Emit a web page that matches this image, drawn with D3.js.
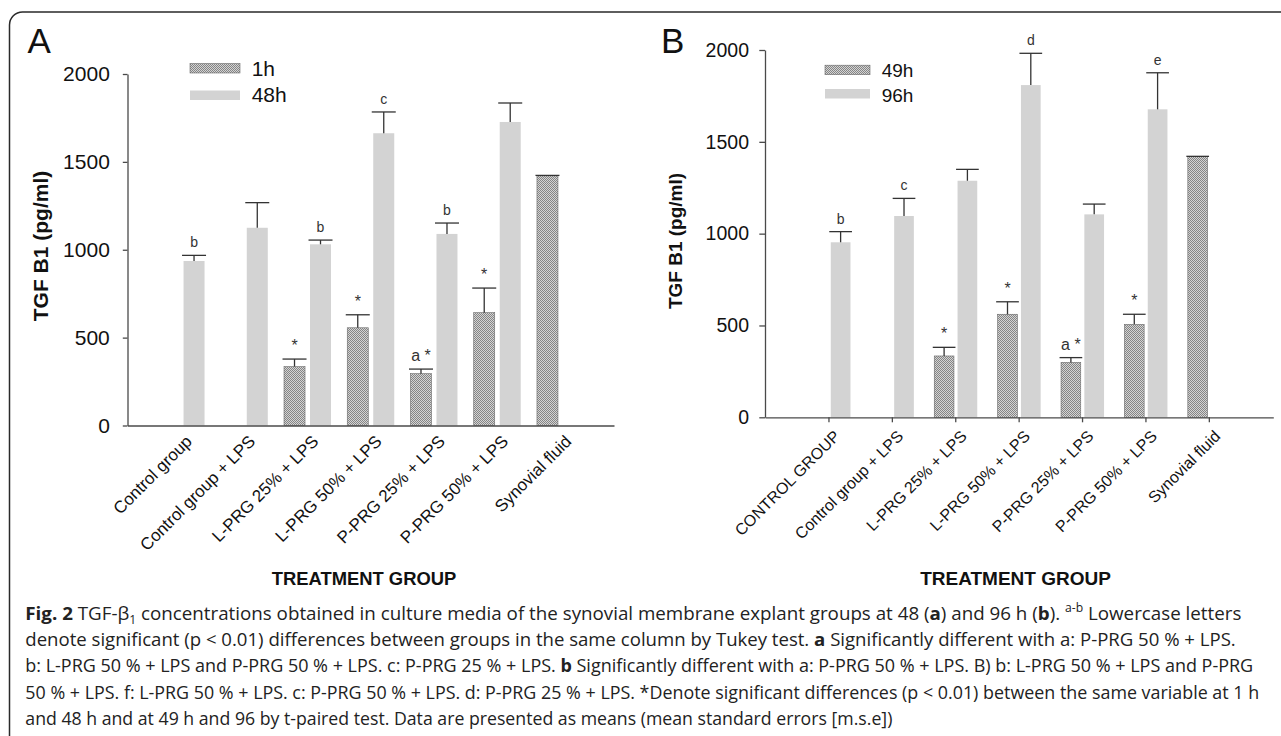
<!DOCTYPE html>
<html><head><meta charset="utf-8">
<script src="https://cdn.jsdelivr.net/npm/d3@7"></script>
<style>
html,body{margin:0;padding:0;background:#fff;}
svg{display:block;}
</style></head><body>
<svg id="fig" width="1281" height="736"></svg>
<script>
// ---- data: TGF-β1 concentration (pg/ml), mean and s.e.m. per treatment group ----
const categoriesA = ["Control group", "Control group + LPS", "L-PRG 25% + LPS", "L-PRG 50% + LPS",
                     "P-PRG 25% + LPS", "P-PRG 50% + LPS", "Synovial fluid"];
const categoriesB = ["CONTROL GROUP", "Control group + LPS", "L-PRG 25% + LPS", "L-PRG 50% + LPS",
                     "P-PRG 25% + LPS", "P-PRG 50% + LPS", "Synovial fluid"];
const seriesA = ["1h", "48h"];
const seriesB = ["49h", "96h"];

const meanA1h  = [null, null, 335, 556, 295, 642, 1421];
const semA1h   = [null, null, 43, 74, 26, 140, 2];
const meanA48h = [936, 1125, 1031, 1663, 1090, 1727, null];
const semA48h  = [32, 143, 24, 121, 62, 108, null];
const marksA1h  = [null, null, "*", "*", "a *", "*", null];
const marksA48h = ["b", null, "b", "c", "b", null, null];

const meanB49h = [null, null, 334, 561, 299, 506, 1419];
const semB49h  = [null, null, 47, 68, 26, 55, 2];
const meanB96h = [953, 1096, 1288, 1809, 1105, 1677, null];
const semB96h  = [58, 96, 62, 173, 56, 199, null];
const marksB49h = [null, null, "*", "*", "a *", "*", null];
const marksB96h = ["b", "c", null, "d", null, "e", null];

const yTicks = [0, 500, 1000, 1500, 2000];
const yTitle = "TGF B1 (pg/ml)";
const xTitle = "TREATMENT GROUP";

// ---- drawing ----
const FONT = "'Liberation Sans', Arial, Helvetica, sans-serif";
const svg = d3.select("#fig");

const defs = svg.append("defs");
const pat = defs.append("pattern").attr("id", "hatch")
  .attr("patternUnits", "userSpaceOnUse").attr("width", 2).attr("height", 2);
pat.append("rect").attr("width", 2).attr("height", 2).attr("fill", "#d4d4d4");
pat.append("rect").attr("width", 1).attr("height", 1).attr("fill", "#858585");
pat.append("rect").attr("x", 1).attr("y", 1).attr("width", 1).attr("height", 1).attr("fill", "#858585");

// figure frame (runs off the right and bottom edges)
svg.append("rect").attr("x", 9.5).attr("y", 12).attr("width", 1320).attr("height", 800)
  .attr("rx", 13).attr("fill", "none").attr("stroke", "#2a2a2a").attr("stroke-width", 1.5);

const LIGHT = "#d3d3d3";
const AXIS = "#4a4a4a";

function drawPanel(cfg, d) {
  const g = svg.append("g");
  const x = d3.scaleBand().domain(d.categories).range(cfg.xRange)
    .paddingInner(0).paddingOuter(cfg.po);
  const inner = d3.scaleBand().domain(d.series).range([-cfg.half, cfg.half])
    .paddingInner(cfg.pi).paddingOuter(0);
  const y = d3.scaleLinear().domain([0, 2000]).range(cfg.yRange);
  const bw = inner.bandwidth();

  // panel letter
  g.append("text").attr("x", cfg.letterX).attr("y", 53.3).attr("font-family", FONT)
    .attr("font-size", 35).attr("fill", "#111").text(cfg.letter);

  // bars, error bars and significance marks
  d.series.forEach((s, si) => {
    const fill = si === 0 ? "url(#hatch)" : LIGHT;
    const rows = d.categories.map((c, i) => ({c, m: d.means[si][i], e: d.sems[si][i], t: d.marks[si][i]}))
      .filter(r => r.m != null);
    const cx = r => x(r.c) + x.bandwidth() / 2 + inner(s) + bw / 2;

    g.selectAll(null).data(rows).join("rect")
      .attr("x", r => cx(r) - bw / 2).attr("width", bw)
      .attr("y", r => y(r.m)).attr("height", r => y(0) - y(r.m))
      .attr("fill", fill)
      .attr("stroke", si === 0 ? "#6a6a6a" : "none").attr("stroke-width", si === 0 ? 0.6 : 0);

    const eg = g.selectAll(null).data(rows.filter(r => r.e)).join("g");
    eg.append("line").attr("x1", cx).attr("x2", cx)
      .attr("y1", r => y(r.m)).attr("y2", r => y(r.m + r.e))
      .attr("stroke", "#333").attr("stroke-width", 1.3);
    eg.append("line").attr("x1", r => cx(r) - bw / 2 - 1.5).attr("x2", r => cx(r) + bw / 2 + 1.5)
      .attr("y1", r => y(r.m + r.e)).attr("y2", r => y(r.m + r.e))
      .attr("stroke", "#333").attr("stroke-width", 1.3);

    g.selectAll(null).data(rows.filter(r => r.t)).join("text")
      .attr("x", cx).attr("y", r => y(r.m + (r.e || 0)) - 8)
      .attr("text-anchor", "middle").attr("font-family", FONT)
      .attr("font-size", r => r.t.includes("*") ? 16 : 14).attr("fill", "#333")
      .text(r => r.t);
  });

  // y axis
  const ya = g.append("g").attr("transform", `translate(${cfg.xRange[0]},0)`)
    .call(d3.axisLeft(y).tickValues(yTicks).tickSize(cfg.yTick).tickSizeOuter(0)
      .tickPadding(cfg.yPad).tickFormat(d3.format("d")));
  ya.selectAll("path,line").attr("stroke", AXIS).attr("stroke-width", 1.3);
  ya.selectAll("text").attr("font-family", FONT).attr("font-size", cfg.yFont).attr("fill", "#111");

  // x axis
  const xa = g.append("g").attr("transform", `translate(0,${y(0)})`)
    .call(d3.axisBottom(x).tickSize(cfg.xTick).tickSizeOuter(0));
  xa.selectAll("path,line").attr("stroke", AXIS).attr("stroke-width", 1.3);
  xa.selectAll("text").attr("x", 0).attr("y", 0).attr("dy", 0)
    .attr("transform", `translate(${cfg.labOff[0]},${cfg.labOff[1]}) rotate(-45)`)
    .attr("text-anchor", "end").attr("font-family", FONT)
    .attr("font-size", cfg.xFont).attr("fill", "#111");

  // axis titles
  g.append("text").attr("transform", `translate(${cfg.titleX},${cfg.titleY}) rotate(-90)`)
    .attr("text-anchor", "middle").attr("font-family", FONT).attr("font-weight", "bold")
    .attr("font-size", cfg.titleFont).attr("fill", "#111").text(yTitle);
  g.append("text").attr("x", cfg.xTitleX).attr("y", 585)
    .attr("text-anchor", "middle").attr("font-family", FONT).attr("font-weight", "bold")
    .attr("font-size", cfg.xTitleFont).attr("fill", "#111").text(xTitle);

  // legend
  const lg = g.append("g");
  d.series.forEach((s, si) => {
    lg.append("rect").attr("x", cfg.legX).attr("y", cfg.legY[si]).attr("width", cfg.legW).attr("height", 9.5)
      .attr("fill", si === 0 ? "url(#hatch)" : LIGHT)
      .attr("stroke", si === 0 ? "#6a6a6a" : "none").attr("stroke-width", si === 0 ? 0.6 : 0);
    lg.append("text").attr("x", cfg.legTextX).attr("y", cfg.legBase[si])
      .attr("font-family", FONT).attr("font-size", cfg.legFont).attr("fill", "#111").text(s);
  });
}

drawPanel({
  letter: "A", letterX: 27.5,
  xRange: [127.5, 614], po: 0.3467, half: 23.5, pi: 0.192,
  yRange: [425.5, 74], yTick: 4.7, yPad: 13, yFont: 21,
  xTick: 0, xFont: 17, labOff: [12, 17],
  titleX: 47.5, titleY: 246, titleFont: 21, xTitleX: 364, xTitleFont: 18.4,
  legX: 190, legW: 50, legY: [63.5, 90.5], legTextX: 251.7, legBase: [76, 102], legFont: 21
}, {
  categories: categoriesA, series: seriesA,
  means: [meanA1h, meanA48h], sems: [semA1h, semA48h], marks: [marksA1h, marksA48h]
});

drawPanel({
  letter: "B", letterX: 661,
  xRange: [765, 1273.3], po: 0.509, half: 21.5, pi: 0.1545,
  yRange: [417.3, 50], yTick: 5.7, yPad: 10.3, yFont: 19.5,
  xTick: 5, xFont: 16, labOff: [12, 20],
  titleX: 682.2, titleY: 241, titleFont: 19, xTitleX: 1015.5, xTitleFont: 19,
  legX: 825, legW: 45, legY: [65.2, 89], legTextX: 881.7, legBase: [76.7, 101.7], legFont: 19
}, {
  categories: categoriesB, series: seriesB,
  means: [meanB49h, meanB96h], sems: [semB49h, semB96h], marks: [marksB49h, marksB96h]
});

// ---- caption: each line is set at its natural width, then squeezed horizontally to its measure ----
const captionLines = [
  [["Fig. 2", "b"], [" TGF-β"], ["1", "sub"], [" concentrations obtained in culture media of the synovial membrane explant groups at 48 ("],
   ["a", "b"], [") and 96 h ("], ["b", "b"], ["). "], ["a-b", "sup"], [" Lowercase letters"]],
  [["denote significant (p < 0.01) differences between groups in the same column by Tukey test. "], ["a", "b"],
   [" Significantly different with a: P-PRG 50 % + LPS."]],
  [["b: L-PRG 50 % + LPS and P-PRG 50 % + LPS. c: P-PRG 25 % + LPS. "], ["b", "b"],
   [" Significantly different with a: P-PRG 50 % + LPS. B) b: L-PRG 50 % + LPS and P-PRG"]],
  [["50 % + LPS. f: L-PRG 50 % + LPS. c: P-PRG 50 % + LPS. d: P-PRG 25 % + LPS. *Denote significant differences (p < 0.01) between the same variable at 1 h"]],
  [["and 48 h and at 49 h and 96 by t-paired test. Data are presented as means (mean standard errors [m.s.e])"]]
];
const lineEnds = [1242, 1236.7, 1254, 1259.6, 893];
const capX = 25.3;
captionLines.forEach((segs, li) => {
  const y0 = 619.5 + li * 26.4;
  const t = svg.append("text").attr("x", 0).attr("y", 0)
    .attr("font-family", "'Open Sans', 'Noto Sans', sans-serif").attr("font-size", 18.5)
    .attr("fill", "#222");
  let shift = 0;
  segs.forEach(([txt, kind]) => {
    const sp = t.append("tspan").text(txt);
    let target = 0;
    if (kind === "b") sp.attr("font-weight", "bold");
    if (kind === "sub") { sp.attr("font-size", 12); target = 4; }
    if (kind === "sup") { sp.attr("font-size", 12); target = -8; }
    if (target !== shift) { sp.attr("dy", target - shift); shift = target; }
  });
  const natural = t.node().getComputedTextLength();
  const k = (lineEnds[li] - capX) / natural;
  t.attr("transform", `translate(${capX},${y0}) scale(${k},1)`);
});
</script>
</body></html>
